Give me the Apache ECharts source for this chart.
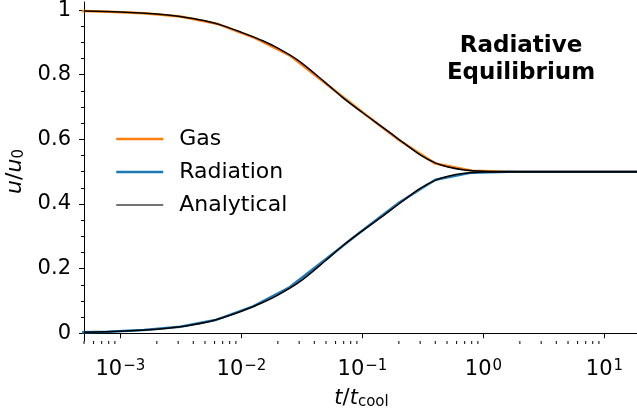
<!DOCTYPE html>
<html>
<head>
<meta charset="utf-8">
<script src="https://cdn.jsdelivr.net/npm/echarts@6/dist/echarts.min.js"></script>
<style>html,body{margin:0;padding:0;background:#fff}#c{width:637px;height:415px}</style>
</head>
<body>
<div id="c"></div>
<script>
// Simulation output times (t / t_cool)
const simTimes = [0.000390625, 0.00078125, 0.0015625, 0.003125, 0.00625, 0.0125, 0.025, 0.05, 0.1, 0.2, 0.4, 0.8, 1.6, 3.2, 6.4, 12.8, 25.6];
const gasValues = [0.998, 0.995, 0.990, 0.980, 0.958, 0.916, 0.860, 0.772, 0.684, 0.598, 0.525, 0.503, 0.500, 0.500, 0.500, 0.500, 0.500];
const radValues = [0.002, 0.005, 0.010, 0.020, 0.042, 0.083, 0.142, 0.230, 0.318, 0.404, 0.475, 0.497, 0.500, 0.500, 0.500, 0.500, 0.500];
// Analytical curves
const anaTimes = [0.0005, 0.001, 0.002, 0.003, 0.005, 0.007, 0.01, 0.015, 0.02, 0.03, 0.05, 0.07, 0.1, 0.15, 0.2, 0.3, 0.4, 0.5, 0.7, 1, 2, 5, 10, 25];
const anaGas = [0.997, 0.994, 0.988, 0.981, 0.967, 0.952, 0.931, 0.905, 0.882, 0.842, 0.774, 0.727, 0.683, 0.635, 0.600, 0.552, 0.527, 0.515, 0.505, 0.501, 0.500, 0.500, 0.500, 0.500];
const anaRad = [0.003, 0.006, 0.012, 0.019, 0.033, 0.048, 0.068, 0.095, 0.118, 0.158, 0.226, 0.273, 0.317, 0.365, 0.400, 0.448, 0.473, 0.485, 0.495, 0.499, 0.500, 0.500, 0.500, 0.500];
// Axis ticks
const yTicks = [0, 0.2, 0.4, 0.6, 0.8, 1];
const yMinorTicks = [0.05, 0.1, 0.15, 0.25, 0.3, 0.35, 0.45, 0.5, 0.55, 0.65, 0.7, 0.75, 0.85, 0.9, 0.95];
const xMinorMantissas = [2, 3, 4, 5, 6, 7, 8, 9];
const xDecades = [-4, -3, -2, -1, 0, 1];
const legendNames = ['Gas', 'Radiation', 'Analytical'];
const titleText = 'Radiative\nEquilibrium';

const X_MIN = 0.0005, X_MAX = 19.3, Y_MIN = -0.024, Y_MAX = 1.025;
const FONT = 'DejaVu Sans';

const xMinor = [];
xDecades.forEach(d => xMinorMantissas.forEach(m => {
  const v = m * Math.pow(10, d);
  if (v >= X_MIN && v <= X_MAX) xMinor.push(v);
}));

const zip = (xs, ys) => xs.map((x, i) => [x, ys[i]]);

const chart = echarts.init(document.getElementById('c'), null, {renderer: 'canvas'});
chart.setOption({
  animation: false,
  backgroundColor: '#fff',
  textStyle: {fontFamily: FONT},
  title: {
    text: titleText, left: 516, top: 28, textAlign: 'center',
    textStyle: {fontFamily: FONT, fontWeight: 'bold', fontSize: 23, lineHeight: 27, color: '#000'}
  },
  legend: {
    data: [
      {name: legendNames[0], lineStyle: {color: '#ff7f0e', width: 2.5}},
      {name: legendNames[1], lineStyle: {color: '#1f77b4', width: 2.5}},
      {name: legendNames[2], lineStyle: {color: '#444', width: 1.5}}
    ],
    orient: 'vertical', left: 115, top: 128, padding: 0,
    itemWidth: 47, itemHeight: 22, itemGap: 11,
    itemStyle: {opacity: 0, borderWidth: 0},
    textStyle: {fontFamily: FONT, fontSize: 22, color: '#000', padding: [0, 0, 0, 11]}
  },
  grid: {left: 84, right: -2, top: 2, bottom: 74, outerBoundsMode: 'none', containLabel: false},
  xAxis: [{
    type: 'log', min: X_MIN, max: X_MAX, logBase: 10,
    splitLine: {show: false},
    axisLine: {lineStyle: {color: '#000', width: 1}},
    axisTick: {length: 5, lineStyle: {color: '#000', width: 1}},
    axisLabel: {
      showMinLabel: false, showMaxLabel: false, margin: 18, color: '#000',
      formatter: v => {
        const e = Math.round(Math.log10(v));
        return '{b|10}{s|' + (e < 0 ? '\u2212' + (-e) : e) + '}';
      },
      rich: {
        b: {fontFamily: FONT, fontSize: 21, color: '#000'},
        s: {fontFamily: FONT, fontSize: 15, color: '#000', verticalAlign: 'top', padding: [0, 0, 0, 1]}
      }
    },
    name: '{i|t}{n|/}{i|t}{sub|cool}', nameLocation: 'middle', nameGap: 46,
    nameTextStyle: {
      rich: {
        i: {fontFamily: FONT, fontStyle: 'italic', fontSize: 21, color: '#000'},
        n: {fontFamily: FONT, fontSize: 21, color: '#000'},
        sub: {fontFamily: FONT, fontSize: 15, color: '#000', verticalAlign: 'bottom', padding: [8, 0, 0, 0]}
      }
    }
  }, {
    type: 'log', min: X_MIN, max: X_MAX, position: 'top',
    splitLine: {show: false}, axisTick: {show: false}, axisLabel: {show: false},
    axisLine: {lineStyle: {color: '#000', width: 1}}
  }],
  yAxis: [{
    type: 'value', min: Y_MIN, max: Y_MAX,
    splitLine: {show: false},
    axisLine: {show: true, lineStyle: {color: '#000', width: 1}},
    axisTick: {show: true, length: 5, customValues: yTicks, lineStyle: {color: '#000', width: 1}},
    axisLabel: {
      customValues: yTicks, margin: 13, color: '#000', fontFamily: FONT, fontSize: 21,
      formatter: v => String(Math.round(v * 10) / 10)
    },
    name: '{i|u}{n|/}{i|u}{sub|0}', nameLocation: 'middle', nameGap: 54, nameRotate: 90,
    nameTextStyle: {
      rich: {
        i: {fontFamily: FONT, fontStyle: 'italic', fontSize: 22, color: '#000'},
        n: {fontFamily: FONT, fontSize: 22, color: '#000'},
        sub: {fontFamily: FONT, fontSize: 15, color: '#000', verticalAlign: 'bottom', padding: [8, 0, 0, 0]}
      }
    }
  }, {
    type: 'value', min: Y_MIN, max: Y_MAX, position: 'left',
    splitLine: {show: false}, axisLine: {show: false}, axisLabel: {show: false},
    axisTick: {show: true, length: 3, customValues: yMinorTicks, lineStyle: {color: '#000', width: 1}}
  }],
  series: [
    {
      name: 'Gas', type: 'line', data: zip(simTimes, gasValues), showSymbol: false, symbol: 'none',
      lineStyle: {color: '#ff7f0e', width: 2.5}, itemStyle: {color: '#ff7f0e'}, z: 2
    },
    {
      name: 'Radiation', type: 'line', data: zip(simTimes, radValues), showSymbol: false, symbol: 'none',
      lineStyle: {color: '#1f77b4', width: 2.5}, itemStyle: {color: '#1f77b4'}, z: 2
    },
    {
      name: 'Analytical', type: 'line', data: zip(anaTimes, anaGas), showSymbol: false, symbol: 'none', smooth: 0.3,
      lineStyle: {color: '#000', width: 1.5}, itemStyle: {color: '#000'}, z: 3
    },
    {
      name: 'Analytical', type: 'line', data: zip(anaTimes, anaRad), showSymbol: false, symbol: 'none', smooth: 0.3,
      lineStyle: {color: '#000', width: 1.5}, itemStyle: {color: '#000'}, z: 3
    },
    {
      type: 'custom', name: 'xminor', silent: true, clip: false, legendHoverLink: false,
      data: xMinor,
      renderItem: (params, api) => {
        const p = api.coord([api.value(0), Y_MIN]);
        return {type: 'line', shape: {x1: p[0], y1: p[1], x2: p[0], y2: p[1] + 3},
                style: {stroke: '#000', lineWidth: 1}};
      },
      encode: {x: 0}
    }
  ]
});
</script>
</body>
</html>
